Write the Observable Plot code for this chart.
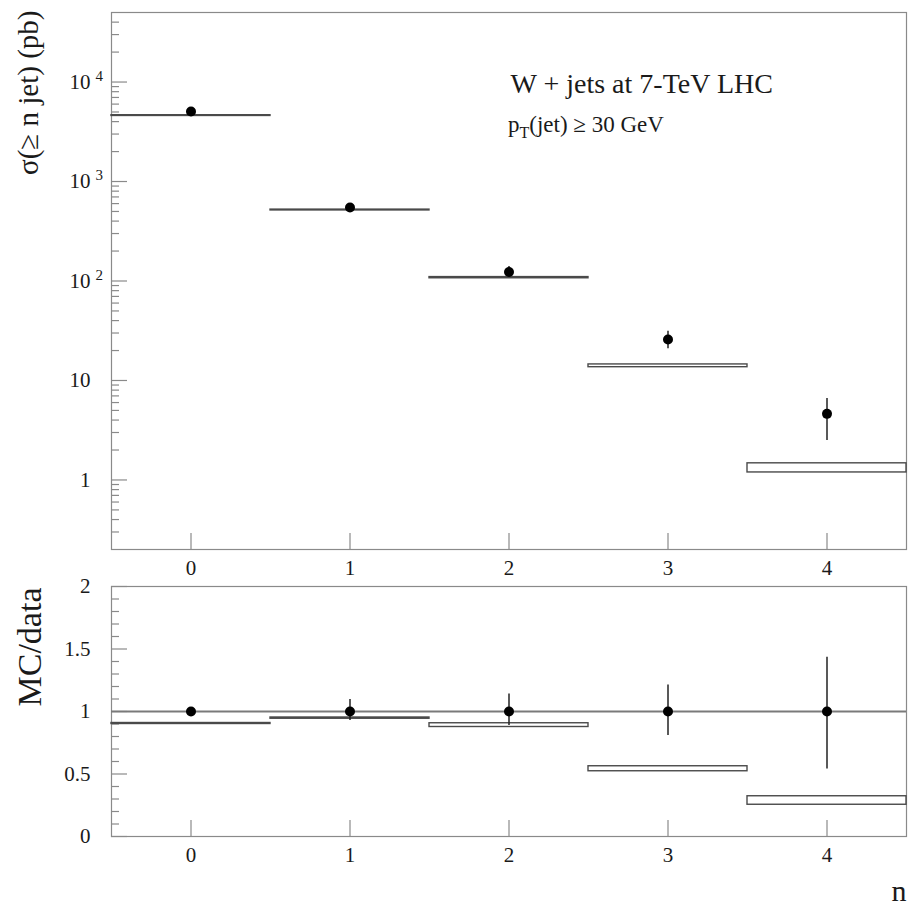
<!DOCTYPE html>
<html><head><meta charset="utf-8">
<script src="https://cdn.jsdelivr.net/npm/d3@7"></script>
<script src="https://cdn.jsdelivr.net/npm/@observablehq/plot@0.6"></script>
<style>
html,body{margin:0;padding:0;background:#fff;}
#wrap{position:relative;width:909px;height:912px;overflow:hidden;}
#wrap svg{position:absolute;left:0;overflow:visible;}
</style></head><body><div id="wrap"></div>
<script>
// ---- data ----
const nJets = [0, 1, 2, 3, 4];
const sigmaData   = [5050, 548, 123, 25.8, 4.62];
const sigmaDataLo = [4750, 510, 109, 20.9, 2.50];
const sigmaDataHi = [5350, 600, 140, 31.2, 6.60];
const sigmaMcLo   = [4560, 512, 106.5, 13.6, 1.19];
const sigmaMcHi   = [4640, 522, 109.5, 14.5, 1.47];
const ratioData   = [1, 1, 1, 1, 1];
const ratioLo     = [0.975, 0.928, 0.888, 0.808, 0.541];
const ratioHi     = [1.025, 1.096, 1.141, 1.213, 1.435];
const ratioMcLo   = [0.900, 0.942, 0.876, 0.522, 0.254];
const ratioMcHi   = [0.908, 0.952, 0.906, 0.562, 0.322];
const yTicksTop = [1, 10, 100, 1000, 10000];
const yTickLabelsTop = ["1", "10", "10^2", "10^3", "10^4"];
const yTicksBottom = [0, 0.5, 1, 1.5, 2];
const yTickLabelsBottom = ["0", "0.5", "1", "1.5", "2"];
const xTickLabels = ["0", "1", "2", "3", "4"];
const yTitleTop = "σ(≥ n jet) (pb)";
const yTitleBottom = "MC/data";
const xTitle = "n";
const titleText = "W + jets at 7-TeV LHC";

const rows = nJets.map((n, i) => ({
  n, sigma: sigmaData[i], lo: sigmaDataLo[i], hi: sigmaDataHi[i],
  mcLo: sigmaMcLo[i], mcHi: sigmaMcHi[i],
  r: ratioData[i], rLo: ratioLo[i], rHi: ratioHi[i],
  rMcLo: ratioMcLo[i], rMcHi: ratioMcHi[i]
}));

// minor tick positions (axis structure)
const minorTop = [];
for (let e = -1; e <= 4; e++) for (let k = 2; k <= 9; k++) {
  const v = k * Math.pow(10, e);
  if (v > 0.2 && v < 50000) minorTop.push(v);
}
const minorBottom = d3.range(1, 20).map(i => i / 10).filter(v => Math.abs(v * 2 - Math.round(v * 2)) > 1e-9);

const FONT = "Liberation Serif, Times New Roman, serif";
const INK = "#1a1a1a";
const GRID = "#8a8a8a";
const W = 909, ML = 111, MR = 3;
const FW = W - ML - MR;

const fmtTop = d => yTickLabelsTop[yTicksTop.indexOf(d)];
const fmtBottom = d => yTickLabelsBottom[yTicksBottom.indexOf(d)];
const fmtX = d => xTickLabels[nJets.indexOf(d)];

// ---- top panel ----
const topMT = 12, topMB = 41, topH = 590;
const topFH = topH - topMT - topMB;
const topPlot = Plot.plot({
  width: W, height: topH,
  marginLeft: ML, marginRight: MR, marginTop: topMT, marginBottom: topMB,
  style: {fontFamily: FONT, fontSize: "21px", color: INK, background: "transparent", overflow: "visible"},
  x: {domain: [-0.5, 4.5], axis: null},
  y: {type: "log", domain: [0.2, 50000], axis: null},
  marks: [
    Plot.tickY(minorTop, {y: d => d, stroke: GRID, strokeWidth: 1.2, insetRight: FW - 8}),
    Plot.tickY(yTicksTop, {y: d => d, stroke: GRID, strokeWidth: 1.2, insetRight: FW - 16}),
    Plot.tickX(nJets, {x: d => d, stroke: GRID, strokeWidth: 1.2, insetTop: topFH - 16}),
    Plot.frame({stroke: GRID, strokeWidth: 1.2}),
    Plot.rect(rows, {x1: d => d.n - 0.5, x2: d => d.n + 0.5, y1: "mcLo", y2: "mcHi",
      fill: "white", stroke: "#4a4a4a", strokeWidth: 1.4}),
    Plot.ruleX(rows, {x: "n", y1: "lo", y2: "hi", stroke: "#222", strokeWidth: 1.5}),
    Plot.dot(rows, {x: "n", y: "sigma", r: 5, fill: "black", stroke: "none"}),
    Plot.axisY({ticks: yTicksTop, tickFormat: fmtTop, tickSize: 0, tickPadding: 21, fill: INK}),
    Plot.axisX({ticks: nJets, tickFormat: fmtX, tickSize: 0, tickPadding: 11, label: null, fill: INK}),
    Plot.text([yTitleTop], {frameAnchor: "top-left", rotate: -90, textAnchor: "end",
      dx: -94, dy: -2, fontSize: 29, fill: INK}),
    Plot.text([titleText], {frameAnchor: "top-left", textAnchor: "start",
      dx: 399, dy: 61, fontSize: 28, fill: INK})
  ]
});

// ---- bottom panel ----
const botTop = 570, botMT = 16, botMB = 76, botH = 912 - botTop;
const botFH = botH - botMT - botMB;
const botPlot = Plot.plot({
  width: W, height: botH,
  marginLeft: ML, marginRight: MR, marginTop: botMT, marginBottom: botMB,
  style: {fontFamily: FONT, fontSize: "21px", color: INK, background: "transparent", overflow: "visible"},
  x: {domain: [-0.5, 4.5], axis: null},
  y: {domain: [0, 2], axis: null},
  marks: [
    Plot.tickY(minorBottom, {y: d => d, stroke: GRID, strokeWidth: 1.2, insetRight: FW - 8}),
    Plot.tickY(yTicksBottom, {y: d => d, stroke: GRID, strokeWidth: 1.2, insetRight: FW - 16}),
    Plot.tickX(nJets, {x: d => d, stroke: GRID, strokeWidth: 1.2, insetTop: botFH - 16}),
    Plot.frame({stroke: GRID, strokeWidth: 1.2}),
    Plot.ruleY([1], {stroke: "#7a7a7a", strokeWidth: 2}),
    Plot.rect(rows, {x1: d => d.n - 0.5, x2: d => d.n + 0.5, y1: "rMcLo", y2: "rMcHi",
      fill: "white", stroke: "#4a4a4a", strokeWidth: 1.4}),
    Plot.ruleX(rows, {x: "n", y1: "rLo", y2: "rHi", stroke: "#222", strokeWidth: 1.5}),
    Plot.dot(rows, {x: "n", y: "r", r: 5, fill: "black", stroke: "none"}),
    Plot.axisY({ticks: yTicksBottom, tickFormat: fmtBottom, tickSize: 0, tickPadding: 21, fill: INK}),
    Plot.axisX({ticks: nJets, tickFormat: fmtX, tickSize: 0, tickPadding: 11, label: null, fill: INK}),
    Plot.text([yTitleBottom], {frameAnchor: "top-left", rotate: -90, textAnchor: "end",
      dx: -95, dy: 1, fontSize: 34, fill: INK}),
    Plot.text([xTitle], {frameAnchor: "bottom-right", textAnchor: "end",
      dx: 0, dy: 64, fontSize: 30, fill: INK})
  ]
});

const wrap = document.getElementById("wrap");
topPlot.style.top = "0px";
botPlot.style.top = botTop + "px";
wrap.appendChild(botPlot);
wrap.appendChild(topPlot);

// superscript exponents on the log axis labels
topPlot.querySelectorAll('g[aria-label="y-axis tick label"] text').forEach(t => {
  const s = t.textContent;
  const i = s.indexOf("^");
  if (i < 0) return;
  t.textContent = s.slice(0, i);
  const e = t.cloneNode(false);
  e.textContent = s.slice(i + 1);
  e.setAttribute("text-anchor", "start");
  e.setAttribute("dx", "5");
  e.setAttribute("dy", "-0.42em");
  e.setAttribute("font-size", "15");
  t.after(e);
});

// subtitle with subscript
const sub = d3.select(topPlot).append("text")
  .attr("x", 508).attr("y", 132).attr("text-anchor", "start")
  .attr("font-family", FONT).attr("font-size", 23).attr("fill", INK);
sub.append("tspan").text("p");
sub.append("tspan").attr("font-size", 16).attr("dy", 6).text("T");
sub.append("tspan").attr("dy", -6).text("(jet) ≥ 30 GeV");
</script>
</body></html>
